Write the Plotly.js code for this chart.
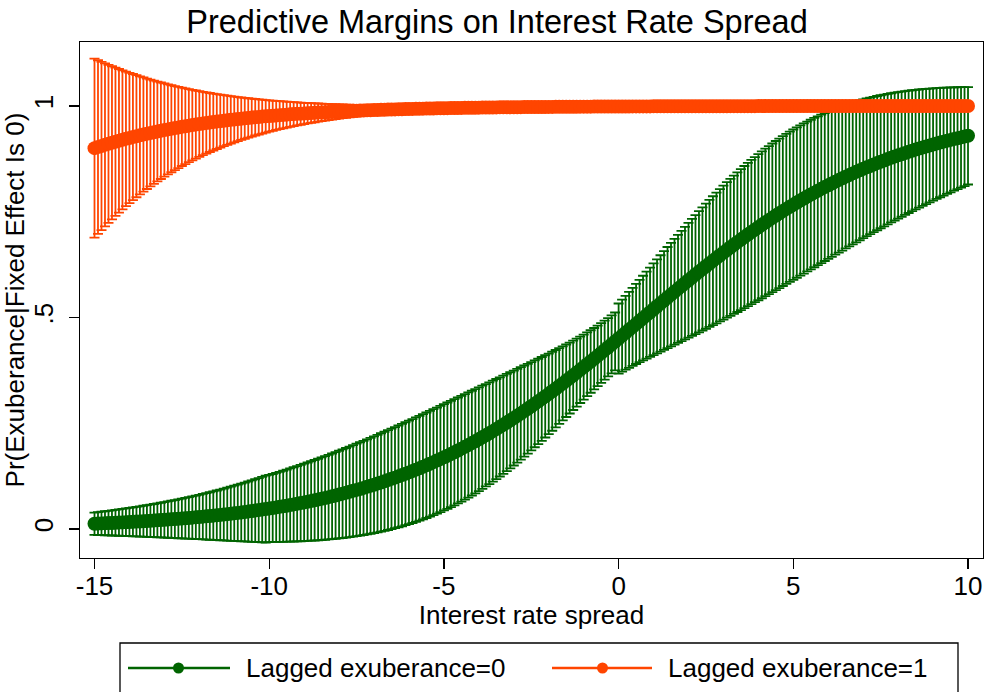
<!DOCTYPE html>
<html>
<head>
<meta charset="utf-8">
<script src="https://cdn.plot.ly/plotly-3.0.1.min.js"></script>
<style>html,body{margin:0;padding:0;background:#fff;}#chart{width:985px;height:692px;}</style>
</head>
<body>
<div id="chart"></div>
<script>
// ---- Data ----
const xSpread = [
-15,-14.9,-14.8,-14.7,-14.6,-14.5,-14.4,-14.3,-14.2,-14.1,
-14,-13.9,-13.8,-13.7,-13.6,-13.5,-13.4,-13.3,-13.2,-13.1,
-13,-12.9,-12.8,-12.7,-12.6,-12.5,-12.4,-12.3,-12.2,-12.1,
-12,-11.9,-11.8,-11.7,-11.6,-11.5,-11.4,-11.3,-11.2,-11.1,
-11,-10.9,-10.8,-10.7,-10.6,-10.5,-10.4,-10.3,-10.2,-10.1,
-10,-9.9,-9.8,-9.7,-9.6,-9.5,-9.4,-9.3,-9.2,-9.1,
-9,-8.9,-8.8,-8.7,-8.6,-8.5,-8.4,-8.3,-8.2,-8.1,
-8,-7.9,-7.8,-7.7,-7.6,-7.5,-7.4,-7.3,-7.2,-7.1,
-7,-6.9,-6.8,-6.7,-6.6,-6.5,-6.4,-6.3,-6.2,-6.1,
-6,-5.9,-5.8,-5.7,-5.6,-5.5,-5.4,-5.3,-5.2,-5.1,
-5,-4.9,-4.8,-4.7,-4.6,-4.5,-4.4,-4.3,-4.2,-4.1,
-4,-3.9,-3.8,-3.7,-3.6,-3.5,-3.4,-3.3,-3.2,-3.1,
-3,-2.9,-2.8,-2.7,-2.6,-2.5,-2.4,-2.3,-2.2,-2.1,
-2,-1.9,-1.8,-1.7,-1.6,-1.5,-1.4,-1.3,-1.2,-1.1,
-1,-0.9,-0.8,-0.7,-0.6,-0.5,-0.4,-0.3,-0.2,-0.1,
0,0.1,0.2,0.3,0.4,0.5,0.6,0.7,0.8,0.9,
1,1.1,1.2,1.3,1.4,1.5,1.6,1.7,1.8,1.9,
2,2.1,2.2,2.3,2.4,2.5,2.6,2.7,2.8,2.9,
3,3.1,3.2,3.3,3.4,3.5,3.6,3.7,3.8,3.9,
4,4.1,4.2,4.3,4.4,4.5,4.6,4.7,4.8,4.9,
5,5.1,5.2,5.3,5.4,5.5,5.6,5.7,5.8,5.9,
6,6.1,6.2,6.3,6.4,6.5,6.6,6.7,6.8,6.9,
7,7.1,7.2,7.3,7.4,7.5,7.6,7.7,7.8,7.9,
8,8.1,8.2,8.3,8.4,8.5,8.6,8.7,8.8,8.9,
9,9.1,9.2,9.3,9.4,9.5,9.6,9.7,9.8,9.9,
10];

// Lagged exuberance = 0 : margin, lower and upper CI bound
const lag0Margin = [
.0125,.0128,.0132,.0136,.0139,.0143,.0147,.0151,.0156,.0160,
.0164,.0169,.0174,.0178,.0183,.0188,.0194,.0199,.0204,.0210,
.0216,.0222,.0228,.0234,.0241,.0247,.0254,.0261,.0268,.0276,
.0283,.0291,.0299,.0307,.0315,.0324,.0333,.0342,.0351,.0361,
.0370,.0380,.0391,.0401,.0412,.0423,.0435,.0446,.0458,.0471,
.0483,.0496,.0510,.0523,.0537,.0551,.0566,.0581,.0597,.0612,
.0629,.0645,.0662,.0680,.0697,.0716,.0734,.0753,.0773,.0793,
.0814,.0835,.0856,.0878,.0901,.0924,.0947,.0971,.0996,.1021,
.1047,.1073,.1100,.1128,.1156,.1185,.1214,.1244,.1275,.1306,
.1338,.1370,.1403,.1437,.1472,.1507,.1543,.1580,.1617,.1655,
.1694,.1733,.1773,.1814,.1856,.1899,.1942,.1985,.2030,.2075,
.2122,.2168,.2216,.2264,.2313,.2363,.2414,.2465,.2517,.2570,
.2623,.2677,.2732,.2788,.2844,.2901,.2958,.3017,.3076,.3135,
.3195,.3256,.3317,.3379,.3442,.3505,.3568,.3632,.3697,.3762,
.3827,.3893,.3959,.4026,.4093,.4161,.4228,.4296,.4365,.4433,
.4502,.4571,.4640,.4709,.4778,.4848,.4917,.4987,.5056,.5125,
.5195,.5264,.5334,.5403,.5472,.5540,.5609,.5677,.5745,.5813,
.5881,.5948,.6015,.6081,.6147,.6213,.6278,.6343,.6407,.6471,
.6534,.6597,.6659,.6720,.6781,.6842,.6901,.6961,.7019,.7077,
.7134,.7191,.7246,.7302,.7356,.7410,.7463,.7515,.7567,.7617,
.7667,.7717,.7765,.7813,.7860,.7907,.7952,.7997,.8041,.8085,
.8128,.8169,.8211,.8251,.8291,.8330,.8368,.8406,.8443,.8479,
.8514,.8549,.8583,.8617,.8650,.8682,.8713,.8744,.8774,.8804,
.8833,.8861,.8889,.8916,.8943,.8969,.8994,.9019,.9043,.9067,
.9090,.9113,.9135,.9157,.9178,.9199,.9219,.9239,.9258,.9277,
.9296];
const lag0Lower = [
-.0140,-.0142,-.0145,-.0148,-.0151,-.0154,-.0157,-.0160,-.0163,-.0166,
-.0170,-.0173,-.0176,-.0179,-.0183,-.0186,-.0190,-.0193,-.0197,-.0200,
-.0204,-.0207,-.0211,-.0215,-.0219,-.0223,-.0226,-.0230,-.0234,-.0238,
-.0242,-.0246,-.0250,-.0254,-.0258,-.0262,-.0266,-.0270,-.0274,-.0279,
-.0283,-.0287,-.0291,-.0295,-.0299,-.0303,-.0307,-.0311,-.0315,-.0319,
-.0313,-.0307,-.0306,-.0305,-.0303,-.0301,-.0299,-.0296,-.0293,-.0290,
-.0286,-.0282,-.0277,-.0272,-.0267,-.0261,-.0254,-.0247,-.0239,-.0231,
-.0222,-.0213,-.0203,-.0192,-.0181,-.0169,-.0156,-.0142,-.0128,-.0113,
-.0097,-.0080,-.0062,-.0043,-.0024,-.0003,.0018,.0041,.0064,.0089,
.0115,.0141,.0170,.0199,.0229,.0260,.0293,.0328,.0363,.0400,
.0438,.0477,.0518,.0560,.0604,.0649,.0695,.0743,.0792,.0843,
.0896,.0950,.1005,.1062,.1120,.1180,.1241,.1304,.1369,.1434,
.1501,.1570,.1640,.1711,.1783,.1857,.1932,.2008,.2085,.2163,
.2242,.2322,.2403,.2484,.2566,.2648,.2730,.2813,.2895,.2978,
.3060,.3141,.3221,.3301,.3379,.3456,.3532,.3606,.3678,.3748,
.3673,.3720,.3766,.3811,.3856,.3900,.3943,.3986,.4028,.4070,
.4112,.4153,.4195,.4236,.4277,.4318,.4359,.4400,.4441,.4483,
.4524,.4566,.4607,.4649,.4692,.4734,.4777,.4820,.4863,.4907,
.4951,.4996,.5040,.5085,.5130,.5176,.5221,.5268,.5314,.5361,
.5408,.5455,.5503,.5551,.5599,.5647,.5695,.5744,.5793,.5842,
.5891,.5940,.5990,.6039,.6089,.6138,.6188,.6237,.6287,.6336,
.6386,.6435,.6485,.6534,.6583,.6632,.6681,.6730,.6778,.6826,
.6874,.6922,.6969,.7016,.7063,.7110,.7156,.7202,.7248,.7293,
.7338,.7382,.7426,.7470,.7513,.7556,.7598,.7640,.7682,.7723,
.7764,.7804,.7843,.7883,.7921,.7960,.7997,.8035,.8071,.8108,
.8144];
const lag0Upper = [
.0389,.0399,.0409,.0419,.0430,.0441,.0452,.0463,.0474,.0486,
.0498,.0511,.0523,.0536,.0549,.0563,.0577,.0591,.0605,.0620,
.0636,.0651,.0667,.0683,.0700,.0717,.0734,.0752,.0770,.0789,
.0808,.0828,.0848,.0868,.0889,.0910,.0932,.0954,.0976,.1000,
.1023,.1048,.1072,.1098,.1123,.1150,.1176,.1204,.1232,.1260,
.1279,.1300,.1325,.1351,.1377,.1404,.1431,.1459,.1486,.1515,
.1543,.1572,.1601,.1631,.1661,.1692,.1723,.1754,.1785,.1817,
.1849,.1882,.1915,.1948,.1982,.2016,.2050,.2085,.2120,.2155,
.2191,.2227,.2263,.2299,.2336,.2373,.2410,.2447,.2485,.2523,
.2561,.2599,.2637,.2676,.2715,.2754,.2793,.2832,.2871,.2911,
.2950,.2990,.3029,.3069,.3108,.3148,.3188,.3228,.3268,.3308,
.3347,.3387,.3427,.3467,.3506,.3546,.3586,.3626,.3665,.3705,
.3745,.3785,.3825,.3865,.3904,.3945,.3985,.4025,.4066,.4107,
.4148,.4190,.4232,.4274,.4318,.4361,.4406,.4452,.4498,.4546,
.4595,.4646,.4698,.4752,.4807,.4865,.4925,.4987,.5052,.5118,
.5331,.5421,.5513,.5607,.5701,.5795,.5891,.5987,.6084,.6181,
.6278,.6375,.6472,.6569,.6666,.6763,.6859,.6954,.7050,.7144,
.7238,.7330,.7422,.7513,.7603,.7692,.7779,.7866,.7951,.8035,
.8117,.8198,.8278,.8356,.8433,.8508,.8582,.8654,.8724,.8793,
.8860,.8926,.8990,.9053,.9113,.9173,.9230,.9286,.9340,.9393,
.9444,.9493,.9541,.9587,.9632,.9675,.9717,.9757,.9796,.9833,
.9869,.9904,.9937,.9968,.9999,1.0028,1.0056,1.0082,1.0108,1.0132,
1.0155,1.0177,1.0198,1.0217,1.0236,1.0254,1.0271,1.0286,1.0301,1.0315,
1.0328,1.0341,1.0352,1.0363,1.0372,1.0382,1.0390,1.0398,1.0405,1.0411,
1.0417,1.0422,1.0427,1.0432,1.0435,1.0439,1.0441,1.0443,1.0445,1.0446,
1.0448];

// Lagged exuberance = 1 : margin, lower and upper CI bound
const lag1Margin = [
.9003,.9030,.9056,.9081,.9107,.9131,.9155,.9178,.9201,.9223,
.9244,.9265,.9286,.9306,.9325,.9344,.9362,.9380,.9398,.9415,
.9431,.9447,.9463,.9478,.9493,.9507,.9521,.9535,.9548,.9561,
.9574,.9586,.9598,.9610,.9621,.9632,.9642,.9653,.9663,.9673,
.9682,.9691,.9700,.9709,.9717,.9726,.9734,.9741,.9749,.9756,
.9763,.9770,.9777,.9784,.9790,.9796,.9802,.9808,.9814,.9819,
.9824,.9829,.9835,.9839,.9844,.9849,.9853,.9858,.9862,.9866,
.9870,.9874,.9877,.9881,.9885,.9888,.9891,.9894,.9898,.9901,
.9904,.9906,.9909,.9912,.9915,.9917,.9920,.9922,.9924,.9927,
.9929,.9931,.9933,.9935,.9937,.9939,.9941,.9942,.9944,.9946,
.9947,.9949,.9950,.9952,.9953,.9955,.9956,.9957,.9959,.9960,
.9961,.9962,.9963,.9964,.9965,.9967,.9968,.9968,.9969,.9970,
.9971,.9972,.9973,.9974,.9975,.9975,.9976,.9977,.9977,.9978,
.9979,.9979,.9980,.9981,.9981,.9982,.9982,.9983,.9983,.9984,
.9984,.9985,.9985,.9986,.9986,.9987,.9987,.9987,.9988,.9988,
.9988,.9989,.9989,.9989,.9990,.9990,.9990,.9991,.9991,.9991,
.9992,.9992,.9992,.9992,.9992,.9993,.9993,.9993,.9993,.9993,
.9994,.9994,.9994,.9994,.9994,.9995,.9995,.9995,.9995,.9995,
.9995,.9995,.9996,.9996,.9996,.9996,.9996,.9996,.9996,.9996,
.9997,.9997,.9997,.9997,.9997,.9997,.9997,.9997,.9997,.9997,
.9998,.9998,.9998,.9998,.9998,.9998,.9998,.9998,.9998,.9998,
.9998,.9998,.9998,.9998,.9998,.9998,.9998,.9999,.9999,.9999,
.9999,.9999,.9999,.9999,.9999,.9999,.9999,.9999,.9999,.9999,
.9999,.9999,.9999,.9999,.9999,.9999,.9999,.9999,.9999,.9999,
.9999,.9999,.9999,.9999,.9999,.9999,.9999,.9999,.9999,.9999,
.9999];
const lag1Lower = [
.6887,.6978,.7067,.7154,.7239,.7321,.7402,.7481,.7557,.7631,
.7704,.7775,.7843,.7910,.7975,.8038,.8100,.8160,.8218,.8274,
.8329,.8382,.8434,.8485,.8533,.8581,.8627,.8671,.8715,.8757,
.8797,.8837,.8875,.8912,.8948,.8983,.9017,.9050,.9082,.9112,
.9142,.9171,.9199,.9226,.9252,.9278,.9302,.9326,.9349,.9371,
.9393,.9414,.9434,.9453,.9472,.9490,.9508,.9525,.9542,.9557,
.9573,.9588,.9602,.9616,.9630,.9643,.9655,.9667,.9679,.9690,
.9701,.9712,.9722,.9732,.9742,.9751,.9760,.9768,.9777,.9785,
.9792,.9800,.9807,.9814,.9821,.9827,.9833,.9839,.9845,.9851,
.9856,.9861,.9866,.9871,.9876,.9880,.9885,.9889,.9893,.9897,
.9901,.9904,.9908,.9911,.9914,.9918,.9921,.9924,.9926,.9929,
.9932,.9934,.9937,.9939,.9941,.9943,.9945,.9947,.9949,.9951,
.9953,.9955,.9956,.9958,.9959,.9961,.9962,.9964,.9965,.9966,
.9967,.9969,.9970,.9971,.9972,.9973,.9974,.9975,.9975,.9976,
.9977,.9978,.9979,.9979,.9980,.9981,.9981,.9982,.9982,.9983,
.9983,.9984,.9984,.9984,.9985,.9985,.9985,.9986,.9986,.9987,
.9988,.9988,.9988,.9988,.9989,.9989,.9989,.9990,.9990,.9990,
.9990,.9991,.9991,.9991,.9991,.9992,.9992,.9992,.9992,.9992,
.9992,.9993,.9993,.9993,.9993,.9993,.9993,.9994,.9994,.9994,
.9994,.9994,.9994,.9995,.9995,.9995,.9995,.9995,.9995,.9995,
.9995,.9996,.9996,.9996,.9996,.9996,.9996,.9996,.9996,.9996,
.9996,.9996,.9996,.9996,.9996,.9996,.9997,.9997,.9997,.9997,
.9997,.9997,.9997,.9997,.9997,.9997,.9997,.9997,.9997,.9997,
.9997,.9998,.9998,.9998,.9998,.9998,.9998,.9998,.9998,.9998,
.9998,.9998,.9998,.9998,.9998,.9998,.9998,.9998,.9998,.9998,
.9998];
const lag1Upper = [
1.1118,1.1081,1.1044,1.1009,1.0974,1.0940,1.0908,1.0875,1.0844,1.0814,
1.0785,1.0756,1.0728,1.0701,1.0675,1.0649,1.0625,1.0601,1.0577,1.0555,
1.0533,1.0512,1.0491,1.0472,1.0452,1.0434,1.0416,1.0399,1.0382,1.0366,
1.0350,1.0335,1.0321,1.0307,1.0293,1.0280,1.0268,1.0256,1.0244,1.0233,
1.0222,1.0211,1.0201,1.0192,1.0183,1.0174,1.0165,1.0157,1.0149,1.0141,
1.0134,1.0127,1.0120,1.0114,1.0108,1.0102,1.0096,1.0091,1.0085,1.0081,
1.0076,1.0071,1.0067,1.0063,1.0059,1.0055,1.0051,1.0048,1.0044,1.0041,
1.0038,1.0035,1.0033,1.0030,1.0027,1.0025,1.0023,1.0021,1.0019,1.0017,
1.0015,1.0013,1.0012,1.0010,1.0009,1.0007,1.0006,1.0005,1.0003,1.0002,
1.0001,1.0000,.9999,.9999,.9998,.9997,.9996,.9996,.9995,.9994,
.9994,.9993,.9993,.9992,.9992,.9992,.9991,.9991,.9991,.9991,
.9990,.9990,.9990,.9990,.9990,.9990,.9990,.9990,.9990,.9990,
.9990,.9990,.9990,.9990,.9990,.9990,.9990,.9990,.9990,.9990,
.9990,.9990,.9990,.9991,.9991,.9991,.9991,.9991,.9991,.9991,
.9992,.9992,.9992,.9992,.9992,.9993,.9993,.9993,.9993,.9993,
.9994,.9994,.9994,.9994,.9995,.9995,.9995,.9996,.9996,.9996,
.9996,.9996,.9996,.9996,.9996,.9996,.9996,.9996,.9996,.9996,
.9997,.9997,.9997,.9997,.9997,.9997,.9997,.9997,.9997,.9997,
.9997,.9997,.9997,.9997,.9997,.9997,.9997,.9997,.9997,.9997,
.9999,.9999,.9999,.9999,.9999,.9999,.9999,.9999,.9999,.9999,
1.0000,1.0000,1.0000,1.0000,1.0000,1.0000,1.0000,1.0000,1.0000,1.0000,
1.0000,1.0000,1.0000,1.0000,1.0000,1.0000,1.0000,1.0000,1.0000,1.0000,
1.0000,1.0000,1.0000,1.0000,1.0000,1.0000,1.0000,1.0000,1.0000,1.0000,
1.0000,1.0000,1.0000,1.0000,1.0000,1.0000,1.0000,1.0000,1.0000,1.0000,
1.0000,1.0000,1.0000,1.0000,1.0000,1.0000,1.0000,1.0000,1.0000,1.0000,
1.0000];

const seriesNames = ['Lagged exuberance=0', 'Lagged exuberance=1'];
const xTickVals = [-15, -10, -5, 0, 5, 10];
const xTickText = ['-15', '-10', '-5', '0', '5', '10'];
const yTickVals = [0, 0.5, 1];
const yTickText = ['0', '.5', '1'];

// ---- Styling ----
const GREEN = '#006400';
const ORANGE = '#FF4500';
const FONT = 'Liberation Sans, Arial, Helvetica, sans-serif';

function plusErr(hi, m) { return hi.map((v, i) => Math.max(0, v - m[i])); }
function minusErr(lo, m) { return lo.map((v, i) => Math.max(0, m[i] - v)); }

function ciTrace(y, lo, hi, color, name) {
  return {
    type: 'scatter', mode: 'markers', x: xSpread, y: y, name: name + ' CI',
    marker: { size: 2, color: color, opacity: 0 },
    error_y: { type: 'data', symmetric: false, array: plusErr(hi, y), arrayminus: minusErr(lo, y),
               color: color, thickness: 1.8, width: 5 },
    showlegend: false, hoverinfo: 'skip'
  };
}
function lineTrace(y, color, name) {
  return {
    type: 'scatter', mode: 'lines+markers', x: xSpread, y: y, name: name,
    line: { color: color, width: 3 },
    marker: { size: 14, color: color, line: { width: 0 } },
    showlegend: false
  };
}

const traces = [
  ciTrace(lag0Margin, lag0Lower, lag0Upper, GREEN, seriesNames[0]),
  ciTrace(lag1Margin, lag1Lower, lag1Upper, ORANGE, seriesNames[1]),
  lineTrace(lag0Margin, GREEN, seriesNames[0]),
  lineTrace(lag1Margin, ORANGE, seriesNames[1])
];

// plot area in pixels: x 80..983, y 42..558
const PL = 80, PR = 983, PT = 42, PB = 558;
const px = v => (v - PL) / (PR - PL);
const py = v => (PB - v) / (PB - PT);

const legY = 668;
const shapes = [
  { type: 'rect', xref: 'paper', yref: 'paper', x0: px(120), x1: px(958), y0: py(643), y1: py(705),
    line: { color: '#000', width: 1.3 }, fillcolor: 'rgba(0,0,0,0)' },
  { type: 'line', xref: 'paper', yref: 'paper', x0: px(128), x1: px(230), y0: py(legY), y1: py(legY),
    line: { color: GREEN, width: 2.5 } },
  { type: 'circle', xref: 'paper', yref: 'paper', x0: px(173), x1: px(184), y0: py(legY - 5.5), y1: py(legY + 5.5),
    line: { color: GREEN, width: 0 }, fillcolor: GREEN },
  { type: 'line', xref: 'paper', yref: 'paper', x0: px(552), x1: px(652), y0: py(legY), y1: py(legY),
    line: { color: ORANGE, width: 2.5 } },
  { type: 'circle', xref: 'paper', yref: 'paper', x0: px(597), x1: px(608), y0: py(legY - 5.5), y1: py(legY + 5.5),
    line: { color: ORANGE, width: 0 }, fillcolor: ORANGE }
];
const annotations = [
  { xref: 'paper', yref: 'paper', x: px(244), y: py(legY), xanchor: 'left', yanchor: 'middle',
    text: seriesNames[0], showarrow: false, font: { family: FONT, size: 26, color: '#000' } },
  { xref: 'paper', yref: 'paper', x: px(666), y: py(legY), xanchor: 'left', yanchor: 'middle',
    text: seriesNames[1], showarrow: false, font: { family: FONT, size: 26, color: '#000' } }
];

const axisCommon = {
  showline: true, linecolor: '#000', linewidth: 1.3, mirror: true,
  ticks: 'outside', ticklen: 10, tickwidth: 1.3, tickcolor: '#000',
  showgrid: false, zeroline: false, tickfont: { family: FONT, size: 26, color: '#000' }
};

const layout = {
  width: 985, height: 692,
  margin: { l: PL, r: 985 - PR, t: PT, b: 692 - PB, pad: 0 },
  paper_bgcolor: '#fff', plot_bgcolor: '#fff',
  font: { family: FONT, size: 26, color: '#000' },
  showlegend: false,
  title: { text: 'Predictive Margins on Interest Rate Spread', font: { family: FONT, size: 32.5, color: '#000' },
           xref: 'container', yref: 'container', x: 497 / 985, xanchor: 'center', y: 1 - 22 / 692, yanchor: 'middle' },
  xaxis: Object.assign({}, axisCommon, {
    range: [-15.415, 10.429], tickmode: 'array', tickvals: xTickVals, ticktext: xTickText,
    ticklabelstandoff: -6,
    title: { text: 'Interest rate spread', font: { family: FONT, size: 26, color: '#000' }, standoff: 0 }
  }),
  yaxis: Object.assign({}, axisCommon, {
    range: [-0.0686, 1.1513], tickmode: 'array', tickvals: yTickVals, ticktext: yTickText, tickangle: -90,
    ticklabelstandoff: 5,
    title: { text: 'Pr(Exuberance|Fixed Effect Is 0)', font: { family: FONT, size: 26, color: '#000' }, standoff: 0 }
  }),
  shapes: shapes,
  annotations: annotations
};

Plotly.newPlot('chart', traces, layout, { staticPlot: true, displayModeBar: false });
</script>
</body>
</html>
